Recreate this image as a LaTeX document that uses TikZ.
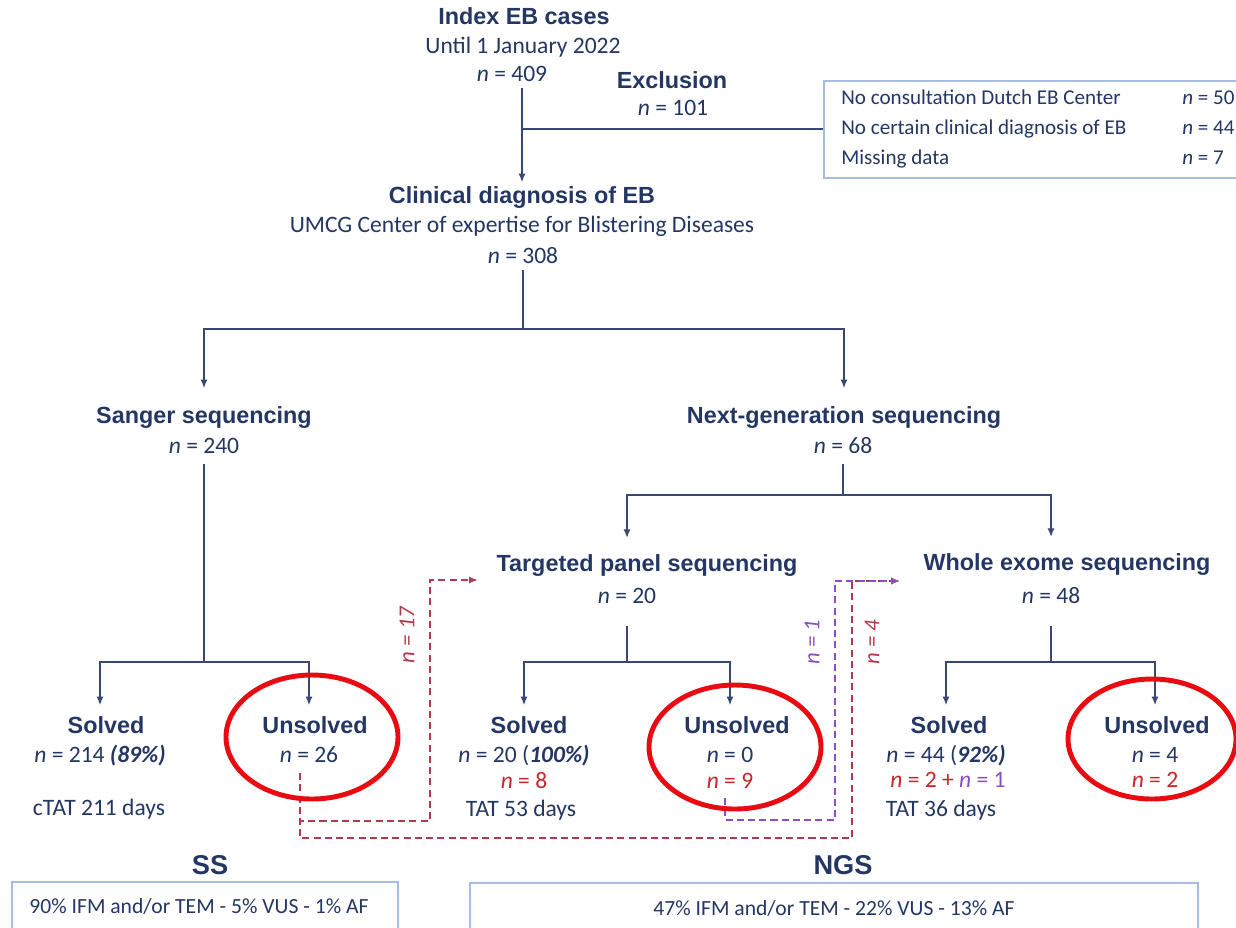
\documentclass[tikz,border=0pt]{standalone}
\usepackage{fontspec}
\setmainfont{Carlito}
\newfontfamily\headfont{Liberation Sans}
\usepackage{tikz}
\usetikzlibrary{arrows.meta}
\tikzset{>={Latex[length=5pt,width=4pt]}}
\usepackage{xcolor}
\definecolor{mynavy}{RGB}{36,55,100}
\definecolor{myline}{RGB}{55,72,115}
\definecolor{myred}{RGB}{200,38,44}
\definecolor{mydashred}{RGB}{178,58,78}
\definecolor{mypurple}{RGB}{140,78,196}
\definecolor{myring}{RGB}{232,12,18}
\definecolor{myframe}{RGB}{166,188,226}
\tikzstyle{head}=[inner sep=0,anchor=base,mynavy,font=\headfont\bfseries\fontsize{13.3}{15}\selectfont,text height=9.5pt,text depth=0pt]
\tikzstyle{big head}=[head,font=\headfont\bfseries\fontsize{15.5}{18}\selectfont]
\tikzstyle{txt}=[inner sep=0,anchor=base,mynavy,font=\fontsize{13.4}{15}\selectfont,text height=9pt,text depth=0pt]
\tikzstyle{txt red}=[txt,myred]
\tikzstyle{small txt}=[txt,anchor=base west,font=\fontsize{12}{14}\selectfont]
\tikzstyle{res txt}=[txt,font=\fontsize{12.3}{14}\selectfont]
\tikzstyle{frame}=[draw=myframe,line width=0.9pt]
\tikzstyle{connect}=[line width=1pt,myline]
\tikzstyle{link}=[line width=1pt,dash pattern=on 4pt off 2.4pt]
\tikzstyle{ring}=[line width=2.8pt,myring]
\tikzstyle{lbl}=[inner sep=0,rotate=90,font=\itshape\fontsize{13}{15}\selectfont]

\begin{document}
\begin{tikzpicture}[x=0.02cm,y=-0.02cm]
  \def\pxl{0.02cm} % one pixel of the layout
  \fill[white] (0,0) rectangle (1236,927);
  \useasboundingbox (0,0) rectangle (1236,927);
  \clip (0,0) rectangle (1236,927);

  % TOP NODES
  \node[head] (idx) at (524,24) {Index EB cases};
  \node[txt] (idx-sub) at (523,53) {Until 1 January 2022};
  \node[txt] (idx-n) at (512,81) {\textit{n} = 409};
  \node[head] (excl) at (672,88) {Exclusion};
  \node[txt] (excl-n) at (673,115) {\textit{n} = 101};
  \node[frame,anchor=north west,minimum width=480*\pxl,minimum height=97*\pxl] (exbox) at (823,80) {};
  \foreach \why/\cnt [count=\k] in {No consultation Dutch EB Center/50,No certain clinical diagnosis of EB/44,Missing data/7}{
    \node[small txt] (ex-why-\k) at (841,74+30*\k) {\why};
    \node[small txt] (ex-n-\k) at (1182,74+30*\k) {\textit{n} = \cnt};
  }
  \node[head] (clin) at (522,203) {Clinical diagnosis of EB};
  \node[txt] (clin-sub) at (522,232) {UMCG Center of expertise for Blistering Diseases};
  \node[txt] (clin-n) at (523,263) {\textit{n} = 308};

  % METHOD NODES
  \node[head] (ss) at (204,423) {Sanger sequencing};
  \node[txt] (ss-n) at (204,453) {\textit{n} = 240};
  \node[head] (ngs) at (844,423) {Next-generation sequencing};
  \node[txt] (ngs-n) at (843,453) {\textit{n} = 68};
  \node[head] (tps) at (647,571) {Targeted panel sequencing};
  \node[txt] (tps-n) at (627,603) {\textit{n} = 20};
  \node[head] (wes) at (1067,570) {Whole exome sequencing};
  \node[txt] (wes-n) at (1051,603) {\textit{n} = 48};

  % OUTCOME NODES
  \node[head] (ss-sol) at (106,733) {Solved};
  \node[txt] (ss-sol-n) at (100,762) {\textit{n} = 214 \textbf{\textit{(89\%)}}};
  \node[txt] (ss-sol-tat) at (99,815) {cTAT 211 days};
  \node[head] (ss-uns) at (315,733) {Unsolved};
  \node[txt] (ss-uns-n) at (309,762) {\textit{n} = 26};

  \node[head] (tps-sol) at (529,733) {Solved};
  \node[txt] (tps-sol-n) at (524,762) {\textit{n} = 20 (\textbf{\textit{100\%)}}};
  \node[txt red] (tps-sol-r) at (524,788) {\textit{n} = 8};
  \node[txt] (tps-sol-tat) at (521,816) {TAT 53 days};
  \node[head] (tps-uns) at (737,733) {Unsolved};
  \node[txt] (tps-uns-n) at (730,762) {\textit{n} = 0};
  \node[txt red] (tps-uns-r) at (730,788) {\textit{n} = 9};

  \node[head] (wes-sol) at (949,733) {Solved};
  \node[txt] (wes-sol-n) at (946,762) {\textit{n} = 44 (\textbf{\textit{92\%)}}};
  \node[txt red] (wes-sol-r) at (948,787) {\textit{n} = 2 + \textcolor{mypurple}{\textit{n} = 1}};
  \node[txt] (wes-sol-tat) at (941,816) {TAT 36 days};
  \node[head] (wes-uns) at (1157,733) {Unsolved};
  \node[txt] (wes-uns-n) at (1155,762) {\textit{n} = 4};
  \node[txt red] (wes-uns-r) at (1155,787) {\textit{n} = 2};

  % DRAW EDGES
  \draw[connect,->,shorten <=4pt,shorten >=2pt] (idx-n.south -| clin.north) -- (clin.north);
  \draw[connect] (exbox.west) -- (exbox.west -| clin.north);

  \coordinate (clin-split) at (523,329);
  \draw[connect,shorten <=4pt] (clin-n.south) -- (clin-split);
  \draw[connect,->,shorten >=10pt] (clin-split) -| (ss.north);
  \draw[connect,->,shorten >=10pt] (clin-split) -| (ngs.north);

  \coordinate (ngs-split) at (843,495);
  \draw[connect,shorten <=6pt] (ngs-n.south) -- (ngs-split);
  \draw[connect,->,shorten >=9pt] (ngs-split) -| (tps.north -| tps-n);
  \draw[connect,->,shorten >=9pt] (ngs-split) -| (wes.north -| wes-n);

  \coordinate (ss-split) at (204,662);
  \coordinate (tps-split) at (627,662);
  \coordinate (wes-split) at (1051,662);
  \foreach \grp/\gap in {ss/6pt,tps/13pt,wes/13pt}{
    \draw[connect,shorten <=\gap] (\grp-n.south) -- (\grp-split);
    \foreach \leaf in {sol,uns}
      \draw[connect,->,shorten >=6pt] (\grp-split) -| (\grp-\leaf.north -| \grp-\leaf-n);
  }

  % RE-SEQUENCED CASES
  \coordinate (ss-out) at (300,773);
  \coordinate (tps-out) at (725,798);
  \coordinate (tps-in) at (478,580);
  \coordinate (wes-in) at (900,581);
  \draw[link,mydashred,->] (ss-out) |- (430,821) |- (tps-in);
  \draw[link,mydashred,->] (ss-out) |- (852,838) |- (wes-in);
  \draw[link,mypurple,->] (tps-out) |- (835,820) |- (wes-in);
  \node[lbl,mydashred] (lbl-17) at (407,635) {n = 17};
  \node[lbl,mypurple] (lbl-1) at (812,642) {n = 1};
  \node[lbl,mydashred] (lbl-4) at (872,642) {n = 4};

  % UNSOLVED RINGS
  \draw[ring] (312,737) ellipse [x radius=86, y radius=62];
  \draw[ring] (735,747) ellipse [x radius=86, y radius=62];
  \draw[ring] (1152,739) ellipse [x radius=84, y radius=60];

  % SUMMARY
  \node[big head] (ss-tag) at (210,874) {SS};
  \node[big head] (ngs-tag) at (843,874) {NGS};
  \draw[frame] (12,882) rectangle (398,960);
  \draw[frame] (470,883) rectangle (1198,960);
  \node[res txt] (ss-res) at (199,913) {90\% IFM and/or TEM - 5\% VUS - 1\% AF};
  \node[res txt] (ngs-res) at (834,915) {47\% IFM and/or TEM - 22\% VUS - 13\% AF};
\end{tikzpicture}
\end{document}
